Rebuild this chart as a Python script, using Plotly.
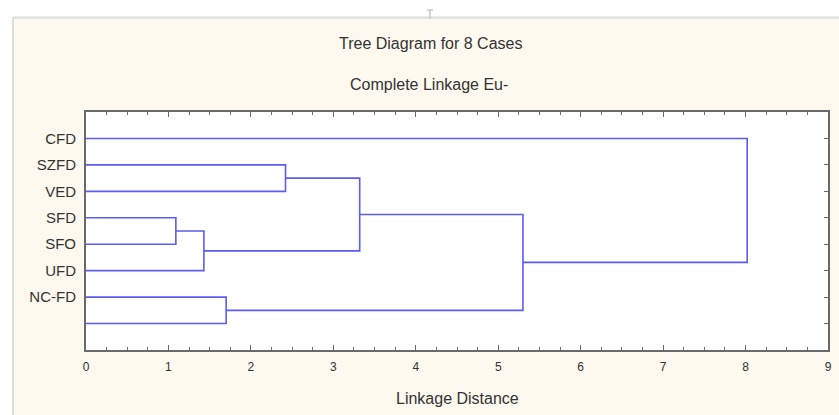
import plotly.graph_objects as go

# ---- data ----
leaf_labels = ["CFD", "SZFD", "VED", "SFD", "SFO", "UFD", "NC-FD", ""]
# merges: (cluster a, cluster b, linkage distance); leaves 0..7, new clusters 8..
merge_a = [3, 8, 6, 1, 11, 12, 0]
merge_b = [4, 5, 7, 2, 9, 10, 13]
merge_dist = [1.09, 1.43, 1.70, 2.42, 3.32, 5.30, 8.02]
x_ticks = [0, 1, 2, 3, 4, 5, 6, 7, 8, 9]

title1 = "Tree Diagram for 8 Cases"
title2 = "Complete Linkage Eu-"
x_title = "Linkage Distance"

# ---- build dendrogram paths ----
n = len(leaf_labels)
pos = {i: i + 1 for i in range(n)}      # vertical position (leaf rank)
height = {i: 0.0 for i in range(n)}
xs, ys = [], []
for k, (a, b, d) in enumerate(zip(merge_a, merge_b, merge_dist)):
    xs += [height[a], d, d, height[b], None]
    ys += [pos[a], pos[a], pos[b], pos[b], None]
    new = n + k
    pos[new] = (pos[a] + pos[b]) / 2
    height[new] = d

W, H = 839, 415
L, R, T, B = 86, 11, 112, 65
pw, ph = W - L - R, H - T - B


def px(xp):
    return (xp - L) / pw


def py(yp):
    return (H - B - yp) / ph


cream = "#fdf9ee"
line_blue = "rgb(92,92,242)"
axis_col = "#6a6a6a"
font = "Liberation Sans, Arial, sans-serif"

fig = go.Figure()
fig.add_trace(go.Scatter(x=xs, y=ys, mode="lines",
                         line=dict(color=line_blue, width=1.6),
                         hoverinfo="skip", showlegend=False))
fig.add_trace(go.Scatter(x=[0], y=[1], yaxis="y2", mode="markers",
                         marker=dict(opacity=0), hoverinfo="skip",
                         showlegend=False))

fig.update_layout(
    width=W, height=H,
    margin=dict(l=L, r=R, t=T, b=B),
    paper_bgcolor=cream, plot_bgcolor="white",
    font=dict(family=font, size=15, color="#333333"),
    xaxis=dict(range=[0, 9], tickvals=x_ticks, ticks="inside", ticklen=5,
               tickcolor=axis_col, tickwidth=1,
               minor=dict(dtick=0.25, ticks="inside", ticklen=3,
                          tickcolor=axis_col),
               showline=True, linecolor=axis_col, linewidth=2,
               mirror="ticks", showgrid=False, zeroline=False,
               tickfont=dict(size=12, color="#333333"),
               ticklabelstandoff=5, automargin=False),
    yaxis=dict(range=[9, 0], tickvals=list(range(1, n + 1)),
               ticktext=leaf_labels, ticks="", showline=True,
               linecolor=axis_col, linewidth=2, mirror=True,
               showgrid=False, zeroline=False,
               tickfont=dict(size=15, color="#333333"),
               ticklabelstandoff=5, automargin=False),
    yaxis2=dict(range=[9, 0], overlaying="y", side="right",
                tickvals=list(range(1, n + 1)), ticks="inside", ticklen=4,
                tickcolor=axis_col, showticklabels=False, showline=False,
                showgrid=False, zeroline=False, automargin=False),
)

fig.add_annotation(text=title1, x=px(430), y=py(44), xref="paper",
                   yref="paper", showarrow=False, font=dict(size=16),
                   xanchor="center", yanchor="middle")
fig.add_annotation(text=title2, x=px(429), y=py(85), xref="paper",
                   yref="paper", showarrow=False, font=dict(size=16),
                   xanchor="center", yanchor="middle")
fig.add_annotation(text=x_title, x=px(457), y=py(398), xref="paper",
                   yref="paper", showarrow=False, font=dict(size=16),
                   xanchor="center", yanchor="middle")

# window-like frame decorations
fig.add_shape(type="rect", xref="paper", yref="paper",
              x0=px(0), x1=px(W), y0=py(17), y1=py(0),
              fillcolor="white", line=dict(width=0))
fig.add_shape(type="rect", xref="paper", yref="paper",
              x0=px(0), x1=px(13), y0=py(H), y1=py(0),
              fillcolor="white", line=dict(width=0))
fig.add_shape(type="line", xref="paper", yref="paper",
              x0=px(13), x1=px(W), y0=py(17.5), y1=py(17.5),
              line=dict(color="#dcdcdc", width=2))
fig.add_shape(type="line", xref="paper", yref="paper",
              x0=px(13), x1=px(13), y0=py(17.5), y1=py(H),
              line=dict(color="#dcdcdc", width=2))
fig.add_shape(type="line", xref="paper", yref="paper",
              x0=px(430), x1=px(430), y0=py(10), y1=py(19),
              line=dict(color="#c8c8c8", width=1.5))
fig.add_shape(type="line", xref="paper", yref="paper",
              x0=px(427), x1=px(433), y0=py(10), y1=py(10),
              line=dict(color="#c8c8c8", width=1.5))

fig.write_html("out.html", config={"displayModeBar": False},
               post_script="document.body.style.margin='0';"
                           "document.body.style.overflow='hidden';")
